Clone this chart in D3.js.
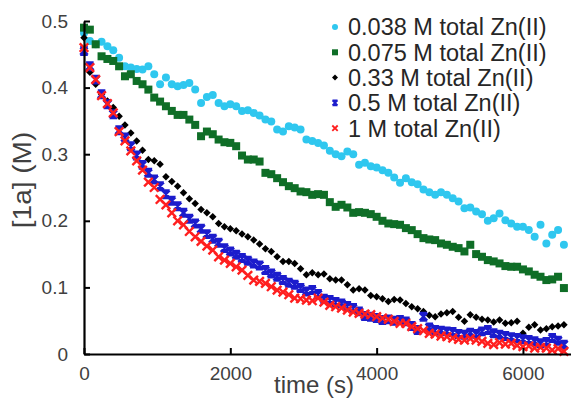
<!DOCTYPE html>
<html>
<head>
<meta charset="utf-8">
<script src="https://cdn.jsdelivr.net/npm/d3@7"></script>
<style>
  body { margin: 0; background: #fff; }
  svg { display: block; font-family: "Liberation Sans", Arial, Helvetica, sans-serif; }
</style>
</head>
<body>
<svg width="574" height="400"></svg>
<script>
// time points (s)
var times = [
  0, 80, 160, 240, 320, 400, 480, 560, 640, 720,
  800, 880, 960, 1040, 1120, 1200, 1280, 1360, 1440, 1520,
  1600, 1680, 1760, 1840, 1920, 2000, 2080, 2160, 2240, 2320,
  2400, 2480, 2560, 2640, 2720, 2800, 2880, 2960, 3040, 3120,
  3200, 3280, 3360, 3440, 3520, 3600, 3680, 3760, 3840, 3920,
  4000, 4080, 4160, 4240, 4320, 4400, 4480, 4560, 4640, 4720,
  4800, 4880, 4960, 5040, 5120, 5200, 5280, 5360, 5440, 5520,
  5600, 5680, 5760, 5840, 5920, 6000, 6080, 6160, 6240, 6320,
  6400, 6480, 6560
];

// [1a] (M) for each total Zn(II) concentration
var zn0038 = [
  .482, .470, .465, .469, .462, .456, .445, .432, .430, .428,
  .427, .432, .420, .405, .415, .405, .402, .404, .407, .397,
  .377, .386, .389, .377, .372, .375, .372, .365, .366, .362,
  .358, .352, .349, .337, .334, .342, .340, .337, .322, .320,
  .317, .313, .305, .300, .297, .304, .300, .284, .287, .282,
  .280, .276, .272, .265, .257, .264, .258, .255, .247, .243,
  .239, .243, .239, .234, .229, .219, .220, .214, .210, .200,
  .204, .211, .201, .196, .191, .191, .186, .176, .194, .166,
  .179, .186, .164
];
var zn0075 = [
  .490, .487, .465, .447, .443, .440, .432, .417, .420, .410,
  .405, .397, .385, .379, .372, .365, .359, .359, .352, .344,
  .327, .334, .330, .322, .318, .317, .312, .298, .292, .292,
  .289, .272, .270, .264, .258, .252, .249, .244, .243, .239,
  .240, .239, .228, .221, .224, .220, .212, .213, .212, .210,
  .206, .200, .196, .195, .194, .189, .186, .180, .174, .172,
  .171, .166, .164, .161, .159, .154, .164, .150, .146, .141,
  .139, .136, .132, .131, .131, .127, .124, .119, .116, .111,
  .112, .116, .099
];
var zn033 = [
  .475, .423, .405, .390, .380, .370, .357, .344, .332, .320,
  .306, .292, .290, .285, .266, .259, .252, .242, .233, .226,
  .217, .212, .206, .196, .191, .188, .185, .180, .176, .171,
  .165, .158, .154, .146, .139, .139, .136, .128, .119, .122,
  .119, .120, .113, .111, .111, .104, .096, .098, .096, .088,
  .086, .083, .079, .082, .081, .076, .071, .068, .064, .058,
  .056, .060, .062, .064, .055, .049, .059, .055, .052, .051,
  .048, .051, .046, .047, .049, .031, .040, .044, .036, .038,
  .041, .042, .044
];
var zn05 = [
  .455, .432, .412, .390, .375, .360, .336, .325, .312, .298,
  .284, .272, .262, .252, .240, .230, .222, .212, .203, .196,
  .188, .180, .173, .167, .159, .154, .149, .144, .140, .136,
  .133, .126, .121, .116, .111, .107, .104, .099, .094, .096,
  .090, .083, .081, .078, .076, .072, .069, .064, .057, .056,
  .054, .051, .052, .050, .051, .049, .042, .036, .056, .040,
  .036, .035, .034, .033, .030, .029, .032, .030, .034, .036,
  .031, .029, .027, .025, .024, .022, .021, .019, .016, .018,
  .024, .020, .014
];
var zn1 = [
  .460, .430, .412, .388, .376, .362, .334, .320, .305, .290,
  .276, .258, .250, .232, .224, .212, .200, .194, .184, .176,
  .169, .162, .156, .146, .141, .136, .131, .126, .118, .111,
  .109, .106, .101, .096, .093, .089, .084, .083, .081, .080,
  .084, .078, .073, .071, .069, .066, .063, .061, .060, .059,
  .056, .054, .052, .049, .046, .046, .041, .038, .035, .031,
  .030, .027, .026, .024, .022, .021, .023, .021, .019, .016,
  .014, .017, .015, .016, .013, .011, .012, .009, .010, .009,
  .006, .008, .004
];

var seriesNames = [
  "0.038 M total Zn(II)",
  "0.075 M total Zn(II)",
  "0.33 M total Zn(II)",
  "0.5 M total Zn(II)",
  "1 M total Zn(II)"
];
var seriesValues = [zn0038, zn0075, zn033, zn05, zn1];
var xTicks = [0, 2000, 4000, 6000];
var yTicks = [0, 0.1, 0.2, 0.3, 0.4, 0.5];

var colors = ["#2fc7ef", "#0f6e27", "#000000", "#1c1ccc", "#ff1f1f"];
var shapes = ["circle", "square", "diamond", "star", "cross"];

var svg = d3.select("svg");

var x = d3.scaleLinear().domain([0, 6650]).range([84, 570.5]);
var y = d3.scaleLinear().domain([0, 0.5]).range([354, 21]);

// draws one marker into a group
function drawMarker(g, shape, color, s, sw) {
  if (shape == "circle") {
    g.append("circle").attr("r", s * 0.5).attr("fill", color);
  } else if (shape == "square") {
    g.append("rect")
      .attr("x", -s / 2).attr("y", -s / 2)
      .attr("width", s).attr("height", s)
      .attr("fill", color);
  } else if (shape == "diamond") {
    var h = s * 0.5;
    g.append("path")
      .attr("d", "M0," + -h + "L" + h + ",0L0," + h + "L" + -h + ",0Z")
      .attr("fill", color);
  } else if (shape == "star") {
    var k = s * 0.42;
    g.append("path")
      .attr("d", "M" + -k + "," + -k + "L" + k + "," + k + "M" + -k + "," + k + "L" + k + "," + -k +
        "M0," + -k * 1.1 + "L0," + k * 1.1 + "M" + -k + "," + -k + "L" + k + "," + -k + "M" + -k + "," + k + "L" + k + "," + k)
      .attr("stroke", color)
      .attr("stroke-width", sw)
      .attr("fill", "none");
  } else {
    var c = s * 0.45;
    g.append("path")
      .attr("d", "M" + -c + "," + -c + "L" + c + "," + c + "M" + -c + "," + c + "L" + c + "," + -c)
      .attr("stroke", color)
      .attr("stroke-width", sw)
      .attr("fill", "none");
  }
}

// data points
var sizes = [8, 8, 7.5, 9, 9.5];
seriesValues.forEach(function (vals, si) {
  svg.append("g")
    .selectAll("g")
    .data(vals)
    .enter()
    .append("g")
    .attr("transform", function (d, i) {
      return "translate(" + x(times[i]) + "," + y(d) + ")";
    })
    .each(function () {
      drawMarker(d3.select(this), shapes[si], colors[si], sizes[si], 2.4);
    });
});

// axes, ticks pointing inward
var xAxis = svg.append("g")
  .attr("transform", "translate(0," + y(0) + ")")
  .call(d3.axisBottom(x).tickValues(xTicks).tickSize(-6).tickPadding(11).tickSizeOuter(0)
    .tickFormat(d3.format("d")));
var yAxis = svg.append("g")
  .attr("transform", "translate(" + x(0) + ",0)")
  .call(d3.axisLeft(y).tickValues(yTicks).tickSize(-6).tickPadding(16).tickSizeOuter(0)
    .tickFormat(function (d) { return d == 0 ? "0" : d3.format(".1f")(d); }));

[xAxis, yAxis].forEach(function (a) {
  a.select(".domain").attr("stroke", "#000").attr("stroke-width", 2.2);
  a.selectAll(".tick line").attr("stroke", "#000").attr("stroke-width", 2);
  a.selectAll(".tick text")
    .attr("fill", "#404040")
    .style("font-size", "19px")
    .style("font-family", "Liberation Sans, Arial, sans-serif");
});
xAxis.selectAll(".tick text").attr("dy", "0.8em");

// axis titles
svg.append("text")
  .attr("x", 314)
  .attr("y", 393)
  .attr("text-anchor", "middle")
  .attr("fill", "#404040")
  .style("font-size", "24px")
  .text("time (s)");

svg.append("text")
  .attr("transform", "translate(31,180) rotate(-90) scale(1.12,1)")
  .attr("text-anchor", "middle")
  .attr("fill", "#404040")
  .style("font-size", "25px")
  .text("[1a] (M)");

// legend
var legend = svg.append("g")
  .selectAll("g")
  .data(seriesNames)
  .enter()
  .append("g")
  .attr("transform", function (d, i) {
    return "translate(335," + (27 + i * 25.3) + ")";
  });

legend.each(function (d, i) {
  drawMarker(d3.select(this), shapes[i], colors[i], 6, 1.8);
});

legend.append("text")
  .attr("x", 13)
  .attr("dy", "0.36em")
  .attr("fill", "#262626")
  .style("font-size", "23.5px")
  .text(function (d) { return d; });
</script>
</body>
</html>
